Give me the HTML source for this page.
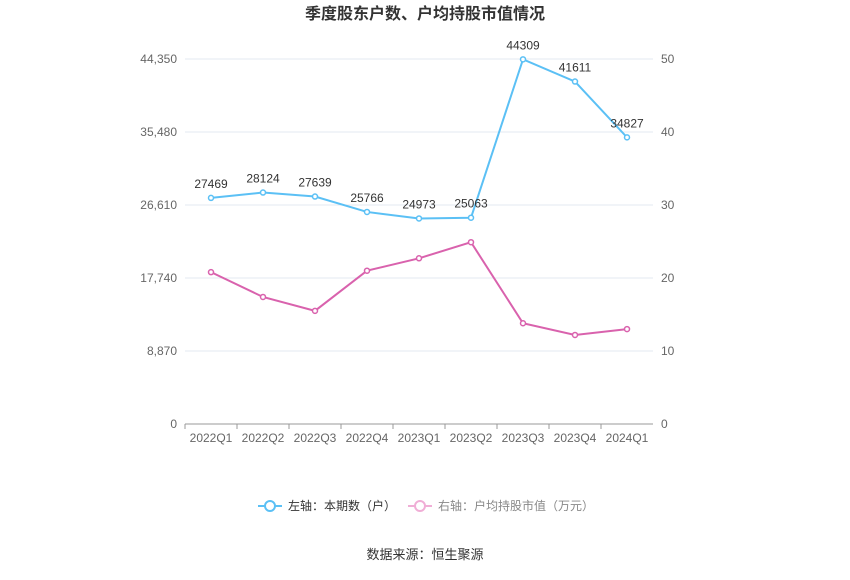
<!DOCTYPE html>
<html><head><meta charset="utf-8"><style>
body{margin:0;background:#fff;font-family:"Liberation Sans","Noto Sans CJK SC",sans-serif;}
svg text{font-family:"Liberation Sans","Noto Sans CJK SC",sans-serif;}
</style></head><body>
<svg id="c" width="850" height="575" xmlns="http://www.w3.org/2000/svg">
<text x="425" y="19" text-anchor="middle" font-size="16" font-weight="bold" fill="#333">季度股东户数、户均持股市值情况</text>
<g id="grid"></g><g id="axes"></g><g id="series"></g>
<g>
<g>
<line x1="258" y1="506" x2="282" y2="506" stroke="#5bc0f5" stroke-width="2"/>
<circle cx="270" cy="506" r="5" fill="#fff" stroke="#5bc0f5" stroke-width="2"/>
<text x="288" y="510" font-size="12" fill="#333">左轴：本期数（户）</text></g>
<g>
<line x1="408" y1="506" x2="432" y2="506" stroke="#f0aed6" stroke-width="2"/>
<circle cx="420" cy="506" r="5" fill="#fff" stroke="#f0aed6" stroke-width="2"/>
<text x="438" y="510" font-size="12" fill="#888">右轴：户均持股市值（万元）</text></g>
</g>
<text x="425" y="559" text-anchor="middle" font-size="13" fill="#333">数据来源：恒生聚源</text>
</svg>
<script>
const categories=["2022Q1","2022Q2","2022Q3","2022Q4","2023Q1","2023Q2","2023Q3","2023Q4","2024Q1"];
const holders=[27469,28124,27639,25766,24973,25063,44309,41611,34827];
const avgValue=[20.8,17.4,15.5,21.0,22.7,24.9,13.8,12.2,13.0];
const leftTicks=[0,8870,17740,26610,35480,44350];
const rightTicks=[0,10,20,30,40,50];
const NS="http://www.w3.org/2000/svg";
const x0=185,x1=653,yB=424,yT=59;
const xs=i=>x0+(x1-x0)/categories.length*(i+0.5);
const yl=v=>yB-(v/44350)*(yB-yT);
const yr=v=>yB-(v/50)*(yB-yT);
function mk(t,a,p){const e=document.createElementNS(NS,t);for(const k in a)e.setAttribute(k,a[k]);p.appendChild(e);return e;}
const grid=document.getElementById('grid'),axes=document.getElementById('axes'),ser=document.getElementById('series');
leftTicks.forEach((v,i)=>{
 const g=mk('line',{x1:x0,x2:x1,y1:yl(v),y2:yl(v),stroke:i==0?'#999':'#e3e8f0'},grid);
 
 
 const t=mk('text',{x:177,y:yl(v)+4,'text-anchor':'end','font-size':12,fill:'#666'},axes);t.textContent=v.toLocaleString('en-US');
 
 
});
rightTicks.forEach(v=>{
 const t=mk('text',{x:661,y:yr(v)+4,'font-size':12,fill:'#666'},axes);t.textContent=v;
 
 
});
categories.forEach((c,i)=>{
 const t=mk('text',{x:xs(i),y:442,'text-anchor':'middle','font-size':12,fill:'#666'},axes);t.textContent=c;
 
 
 const tk=mk('line',{x1:x0+(x1-x0)/9*i,x2:x0+(x1-x0)/9*i,y1:yB,y2:yB+5,stroke:'#999'},axes);
 
 
});
function series(vals,yf,color,name,labels){
 const p=mk('polyline',{points:vals.map((v,i)=>xs(i)+','+yf(v)).join(' '),fill:'none',stroke:color,'stroke-width':2},ser);
 
 
 vals.forEach((v,i)=>{
  const c=mk('circle',{cx:xs(i),cy:yf(v),r:2.5,fill:'#fff',stroke:color,'stroke-width':1.5},ser);
  
  
  if(labels){const t=mk('text',{x:xs(i),y:yf(v)-10,'text-anchor':'middle','font-size':12,fill:'#333'},ser);t.textContent=v;
  
  }
 });
}
series(avgValue,yr,'#d962ad','avg-value',false);
series(holders,yl,'#5bc0f5','holders',true);
</script>
</body></html>
